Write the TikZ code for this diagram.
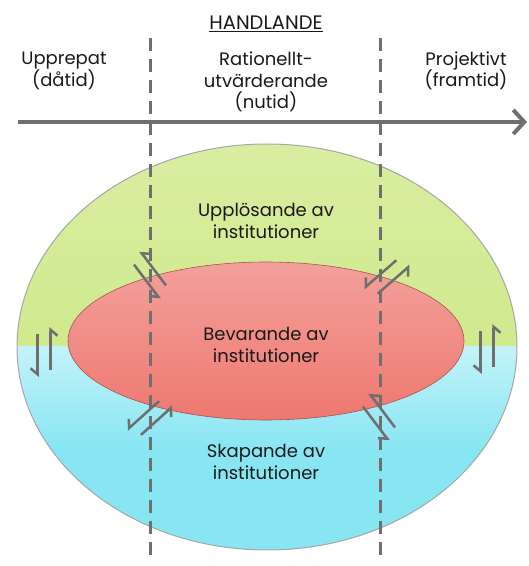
\documentclass[tikz,border=0pt]{standalone}
\usepackage{fontspec}
\setmainfont{Poppins}
\usetikzlibrary{positioning}
\usetikzlibrary{shapes.geometric}
\usetikzlibrary{arrows.meta}
\definecolor{axisgray}{HTML}{6F6F6F}
\definecolor{outergreen}{HTML}{C8E679}
\definecolor{outercyan}{HTML}{88E6F3}
\definecolor{innerred}{HTML}{EE7870}
\begin{document}
\begin{tikzpicture}[x=1pt,y=1pt]
    \tikzset{label/.style={align=center,inner sep=0pt,text=black!90,font=\fontsize{18}{21.5}\selectfont}}
    \tikzset{divider/.style={axisgray,line width=3pt,dash pattern=on 13pt off 8pt}}
    \tikzset{flow/.style={axisgray,line width=2.5pt,-{Straight Barb[right,length=6pt,width=14pt]}}}
    \tikzset{flowpair/.pic={
        \draw[flow] (-18,-6.5) -- (25,-6.5);
        \draw[flow] (18,6.5) -- (-25,6.5);}}
    \useasboundingbox (0,0) rectangle (529,566);

    % outer ellipse: green above, cyan below
    \node[ellipse,inner sep=0pt,minimum width=500pt,minimum height=406pt,
          draw=gray!70,line width=1pt,
          path picture={
            \shade[top color=outergreen!70!white,bottom color=outergreen]
              (path picture bounding box.north west) rectangle (path picture bounding box.east);
            \shade[top color=outercyan!50!white,bottom color=outercyan,middle color=outercyan]
              (path picture bounding box.west) rectangle (path picture bounding box.south east);
          }] (outer) at (267,219) {};
    \node[ellipse,inner sep=0pt,minimum width=396pt,minimum height=158pt,
          draw=innerred!70!black,line width=0.6pt,
          top color=innerred!70!white,bottom color=innerred] (inner) at (266,225) {};

    % time axis and dividers
    \coordinate (axisstart) at (18,444);
    \coordinate (axisend) at (527,444);
    \draw[axisgray,line width=4pt,-{Straight Barb[length=11pt,width=24pt]}] (axisstart) -- (axisend);
    \coordinate (lefttop) at (150,528);
    \coordinate (leftbottom) at (150,11);
    \coordinate (righttop) at (380,528);
    \coordinate (rightbottom) at (380,11);
    \draw[divider] (lefttop) -- (leftbottom);
    \draw[divider] (righttop) -- (rightbottom);

    % texts
    \node[label,font=\fontsize{19.5}{22}\selectfont] (handlande) at (266,542) {\underline{HANDLANDE}};
    \node[label] (upprepat) at (64,495) {Upprepat\\(dåtid)};
    \node[label] (rationellt) at (266,484) {Rationellt-\\utvärderande\\(nutid)};
    \node[label] (projektivt) at (466,495) {Projektivt\\(framtid)};
    \node[label] (upplosande) at (266,345) {Upplösande av\\institutioner};
    \node[label] (bevarande) at (266,221) {Bevarande av\\institutioner};
    \node[label] (skapande) at (266,104) {Skapande av\\institutioner};

    % harpoon pairs
    \pic[rotate=90] at (44,214) {flowpair};
    \pic[rotate=90] at (487,217) {flowpair};
    \pic[rotate=-53] at (150,291) {flowpair};
    \pic[rotate=42] at (150,148) {flowpair};
    \pic[rotate=41] at (387,289) {flowpair};
    \pic[rotate=-53] at (379,149) {flowpair};
\end{tikzpicture}
\end{document}
